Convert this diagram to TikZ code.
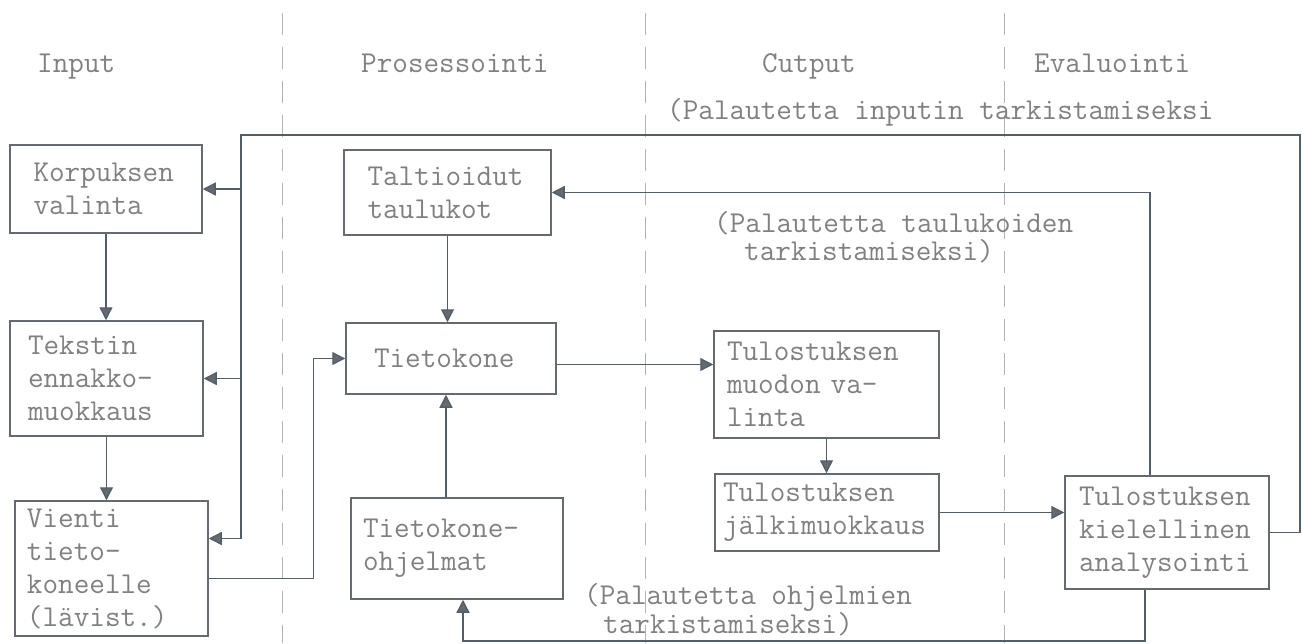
\documentclass[tikz,border=0pt]{standalone}
\usepackage{fontspec}
\usetikzlibrary{arrows.meta}
\definecolor{ink}{RGB}{100,106,112}
\definecolor{typed}{RGB}{128,128,128}
\definecolor{pencil}{RGB}{82,94,104}
\newcommand{\tw}{\ttfamily\fontsize{30.3}{33}\selectfont}

\begin{document}
\begin{tikzpicture}[x=1pt, y=-1pt,
    blk/.style={draw=ink, line width=1.5pt, font=\tw, text=typed,
                align=left, inner sep=4pt},
    lbl/.style={font=\tw, text=typed, inner sep=0pt, anchor=base west},
    arr/.style={draw=pencil, line width=1.3pt,
                -{Triangle[length=13pt,width=13pt,fill=ink]}}]
    \useasboundingbox (0,0) rectangle (1303,643);
    \foreach \x in {282,645,1004}
        \draw[typed!60, line width=0.8pt, dash pattern=on 22pt off 12pt] (\x,13) -- (\x,643);

    \node[lbl] (hin) at (37,72) {Input};
    \node[lbl] (hproc) at (361,72) {Prosessointi};
    \node[lbl] (hout) at (762,72) {Cutput};
    \node[lbl] (heval) at (1034,72) {Evaluointi};

    \node[blk, text width=145pt, minimum width=192pt, minimum height=88pt] (korp) at (106,189) {Korpuksen\\valinta};
    \node[blk, text width=157pt, minimum width=193pt, minimum height=115pt] (tekst) at (106.5,378.5) {Tekstin\\ennakko-\\muokkaus};
    \node[blk, text width=169pt, minimum width=193pt, minimum height=135pt] (vienti) at (111.5,568.5) {Vienti\\tieto-\\koneelle\\(lävist.)};
    \node[blk, text width=160pt, minimum width=207pt, minimum height=85pt] (talt) at (447.5,192.5) {Taltioidut\\taulukot};
    \node[blk, text width=154pt, minimum width=210pt, minimum height=71pt] (tieto) at (451,358.5) {Tietokone};
    \node[blk, text width=188pt, minimum width=212pt, minimum height=101pt] (ohj) at (457,548.5) {Tietokone-\\ohjelmat};
    \node[blk, text width=199pt, minimum width=225pt, minimum height=107pt] (muod) at (826.5,384.5) {Tulostuksen\\muodon va-\\linta};
    \node[blk, text width=208pt, minimum width=224pt, minimum height=77pt] (jalki) at (827,512.5) {Tulostuksen\\jälkimuokkaus};
    \node[blk, text width=176pt, minimum width=204pt, minimum height=113pt] (kiel) at (1167,532.5) {Tulostuksen\\kielellinen\\analysointi};

    \node[lbl] (pin) at (667,119) {(Palautetta inputin tarkistamiseksi};
    \node[lbl] (ptau) at (714,232) {(Palautetta taulukoiden};
    \node[lbl] (ptau2) at (744,260) {tarkistamiseksi)};
    \node[lbl] (pohj) at (584,604) {(Palautetta ohjelmien};
    \node[lbl] (pohj2) at (603,633) {tarkistamiseksi)};

    \draw[arr] (korp.south) -- (korp.south |- tekst.north);
    \draw[arr] (tekst.south) -- (tekst.south |- vienti.north);
    \draw[arr] ([yshift=-10pt]vienti.east) -- ++(105,0) |- (tieto.west);
    \draw[arr] (talt.south) -- (talt.south |- tieto.north);
    \draw[arr] ([xshift=-11pt]ohj.north) -- ([xshift=-11pt]ohj.north |- tieto.south);
    \draw[arr] ([yshift=-6pt]tieto.east) -- ([yshift=-6pt]tieto.east -| muod.west);
    \draw[arr] (muod.south) -- (muod.south |- jalki.north);
    \draw[arr] (jalki.east) -- (jalki.east -| kiel.west);

    \coordinate (fbA) at (1300,135);
    \coordinate (fbB) at (241,135);
    \coordinate (fbC) at (463,641);
    \draw[arr] (kiel.east) -| (fbA) -- (fbB) |- ([yshift=30pt]vienti.east);
    \foreach \n in {korp,tekst}
        \draw[arr] (fbB |- \n.east) -- (\n.east);
    \draw[arr] ([xshift=-17pt]kiel.north) |- (talt.east);
    \draw[arr] ([xshift=-22pt]kiel.south) |- (fbC) -- (fbC |- ohj.south);
\end{tikzpicture}
\end{document}
